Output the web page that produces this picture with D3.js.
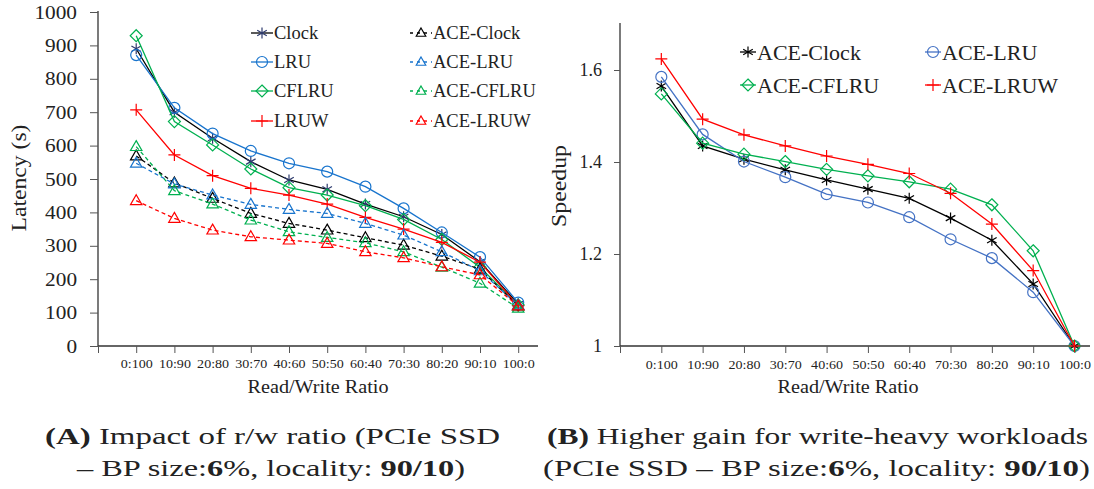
<!DOCTYPE html>
<html><head><meta charset="utf-8">
<script src="https://cdn.jsdelivr.net/npm/d3@7"></script>
<style>body{margin:0;background:#fff}svg{display:block}text{font-family:"Liberation Serif","DejaVu Serif",serif;fill:#222}</style>
</head><body>
<svg id="c" width="1094" height="489"></svg>
<script>
const categories = ["0:100","10:90","20:80","30:70","40:60","50:50","60:40","70:30","80:20","90:10","100:0"];
// Panel A: latency (s)
const clock     = [890,700,622,552,497,469,425,387,334,252,126];
const lru       = [871,713,636,584,547,522,477,412,340,266,130];
const cflru     = [929,672,602,530,474,452,420,379,319,236,123];
const lruw      = [707,572,510,472,452,425,385,350,310,251,120];
const aceClock  = [569,488,442,397,367,347,324,302,269,230,120];
const aceLru    = [547,485,452,424,409,397,367,332,282,225,122];
const aceCflru  = [597,465,425,377,342,325,309,282,236,188,113];
const aceLruw   = [435,382,347,327,317,307,282,264,237,213,120];
const latencyTicks = [0,100,200,300,400,500,600,700,800,900,1000];
// Panel B: speedup
const spClock   = [1.565,1.435,1.406,1.383,1.361,1.341,1.321,1.278,1.230,1.135,1.0];
const spLru     = [1.585,1.460,1.401,1.367,1.330,1.312,1.280,1.232,1.191,1.117,1.0];
const spCflru   = [1.548,1.441,1.417,1.401,1.384,1.370,1.357,1.341,1.307,1.207,1.0];
const spLruw    = [1.624,1.493,1.459,1.435,1.413,1.395,1.375,1.332,1.265,1.164,1.0];
const speedupTicks = [1,1.2,1.4,1.6];

const svg = d3.select("#c");

function stretch(sel, k){
  sel.each(function(){
    const L = this.getComputedTextLength();
    if (L > 0) d3.select(this).attr("textLength", L*k).attr("lengthAdjust","spacingAndGlyphs");
  });
}
function fitTo(sel, w){
  sel.attr("textLength", w).attr("lengthAdjust","spacingAndGlyphs");
}

function markerPath(type, s){
  switch(type){
    case "star": return `M0,${-s}V${s}M${-s*0.87},${-s*0.5}L${s*0.87},${s*0.5}M${-s*0.87},${s*0.5}L${s*0.87},${-s*0.5}`;
    case "circle": return d3.symbol(d3.symbolCircle, Math.PI*s*s)();
    case "diamond": return `M0,${-s}L${s},0L0,${s}L${-s},0Z`;
    case "plus": return `M0,${-s}V${s}M${-s},0H${s}`;
    case "tri": return `M0,${-s}L${s*0.95},${s*0.65}L${-s*0.95},${s*0.65}Z`;
  }
}
function drawMarker(g, type, x, y, color, s){
  g.append("path").attr("d", markerPath(type, s)).attr("transform",`translate(${x},${y})`)
   .attr("fill","none").attr("stroke",color).attr("stroke-width",1.2);
}

function panel(opt){
  const g = svg.append("g");
  const x = d3.scaleLinear().domain([-1,10]).range(opt.xr);
  const y = d3.scaleLinear().domain(opt.yd).range(opt.yr);
  const yAxis = d3.axisLeft(y).tickValues(opt.yticks).tickSize(opt.ytick).tickFormat(opt.yfmt);
  const ga = g.append("g").attr("transform",`translate(${opt.xr[0]},0)`).call(yAxis);
  ga.attr("font-family",null);
  ga.select(".domain").attr("d",`M0,${opt.yr[1]-1}V${opt.yr[0]}`).attr("stroke","#333").attr("stroke-width",1.3);
  ga.selectAll(".tick line").attr("stroke","#555");
  const yt = ga.selectAll(".tick text").attr("font-size",opt.yfs).attr("fill","#222").attr("x",-opt.ylabOff);
  stretch(yt, opt.yk);
  const xAxis = d3.axisBottom(x).tickValues(d3.range(-1,11)).tickSize(7).tickFormat(i => i<0 ? "" : categories[i]);
  const gx = g.append("g").attr("transform",`translate(0,${opt.yr[0]})`).call(xAxis);
  gx.attr("font-family",null);
  gx.select(".domain").attr("d",`M${opt.xr[0]},0H${opt.xend}`).attr("stroke","#333").attr("stroke-width",1.3);
  gx.selectAll(".tick line").attr("stroke","#555");
  const xt = gx.selectAll(".tick text").attr("font-size",13).attr("fill","#333").attr("y",opt.xlabY);
  stretch(xt, 1.08);
  const yl = g.append("text").attr("transform",`translate(${opt.ytX},${opt.ytY}) rotate(-90)`).attr("text-anchor","middle")
   .attr("font-size",20).text(opt.ytitle);
  fitTo(yl, opt.ytW);
  const xl = g.append("text").attr("x",opt.xtX).attr("y",393).attr("text-anchor","middle").attr("font-size",18).text("Read/Write Ratio");
  fitTo(xl, 141);
  const line = d3.line().x((d,i)=>x(i)).y(d=>y(d));
  opt.series.forEach(s=>{
    g.append("path").datum(s.v).attr("d",line).attr("fill","none").attr("stroke",s.line)
      .attr("stroke-width",1.3).attr("stroke-dasharray",s.dash?"4,3":null);
    s.v.forEach((v,i)=>drawMarker(g,s.mk,x(i),y(v),s.mc,s.ms));
  });
  opt.series.forEach((s,k)=>{
    const lx = opt.leg[k][0], ly = opt.leg[k][1];
    g.append("path").attr("d",`M${lx-opt.legW},${ly}H${lx+opt.legW}`).attr("stroke",s.line).attr("stroke-width",1.3)
      .attr("stroke-dasharray",s.dash?"3,4":null);
    drawMarker(g,s.mk,lx,ly,s.mc,s.dash?5:s.ms);
    g.append("text").attr("x",lx+opt.legW+1).attr("y",ly).attr("dy","0.35em").attr("font-size",opt.legfs).text(s.name);
  });
}

const BLK="#000", BLU="#1874CD", GRN="#00B050", RED="#FF0000";
panel({
  xr:[98,518.2], xend:538, yd:[0,1000], yr:[346,12], yticks:latencyTicks, yfmt:d3.format("d"),
  ytick:8, yfs:19, yk:1.12, ylabOff:21, xlabY:13, ytitle:"Latency (s)", ytX:26, ytY:178, ytW:107, xtX:318,
  legW:11, legfs:18.5,
  leg:[[262,33],[262,62],[262,91],[262,121],[421,33],[421,62],[421,91],[421,121]],
  series:[
    {name:"Clock", v:clock, line:BLK, mc:"#2E3B6E", mk:"star", ms:5.5},
    {name:"LRU", v:lru, line:BLU, mc:BLU, mk:"circle", ms:5.5},
    {name:"CFLRU", v:cflru, line:GRN, mc:GRN, mk:"diamond", ms:6},
    {name:"LRUW", v:lruw, line:RED, mc:RED, mk:"plus", ms:6},
    {name:"ACE-Clock", v:aceClock, line:BLK, mc:BLK, mk:"tri", ms:6, dash:true},
    {name:"ACE-LRU", v:aceLru, line:BLU, mc:BLU, mk:"tri", ms:6, dash:true},
    {name:"ACE-CFLRU", v:aceCflru, line:GRN, mc:GRN, mk:"tri", ms:6, dash:true},
    {name:"ACE-LRUW", v:aceLruw, line:RED, mc:RED, mk:"tri", ms:6, dash:true}
  ]
});
panel({
  xr:[620,1074.5], xend:1090, yd:[1,1.7], yr:[346,24], yticks:speedupTicks, yfmt:d=>d===1?"1":d3.format(".1f")(d),
  ytick:6, yfs:18, yk:1.0, ylabOff:18, xlabY:14, ytitle:"Speedup", ytX:566, ytY:186, ytW:82, xtX:848,
  legW:8, legfs:22,
  leg:[[748,52],[933,52],[748,85],[933,85]],
  series:[
    {name:"ACE-Clock", v:spClock, line:BLK, mc:BLK, mk:"star", ms:5.5},
    {name:"ACE-LRU", v:spLru, line:"#4472C4", mc:"#4472C4", mk:"circle", ms:5.5},
    {name:"ACE-CFLRU", v:spCflru, line:GRN, mc:GRN, mk:"diamond", ms:6},
    {name:"ACE-LRUW", v:spLruw, line:RED, mc:RED, mk:"plus", ms:6}
  ]
});
function caption(cx, y, w, parts){
  const t = svg.append("text").attr("x",cx).attr("y",y).attr("text-anchor","middle").attr("font-size",24);
  parts.forEach(p=>t.append("tspan").attr("font-weight",p[1]?"bold":null).text(p[0]));
  fitTo(t, w);
}
caption(272.5,444,455,[["(A)",1],[" Impact of r/w ratio (PCIe SSD",0]]);
caption(271,476,388,[["– BP size:",0],["6",1],["%, locality: ",0],["90/10",1],[")",0]]);
caption(817.5,444,541,[["(B)",1],[" Higher gain for write-heavy workloads",0]]);
caption(816.5,476,547,[["(PCIe SSD – BP size:",0],["6",1],["%, locality: ",0],["90/10",1],[")",0]]);
</script>
</body></html>
